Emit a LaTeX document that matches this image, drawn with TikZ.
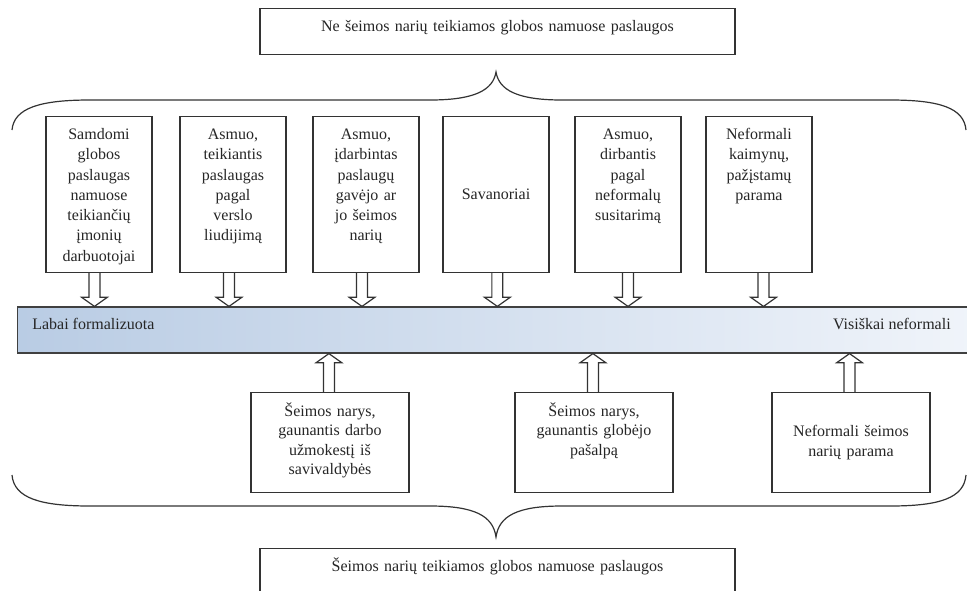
\documentclass[tikz,border=0pt]{standalone}
\usepackage{fontspec}
\setmainfont{Liberation Serif}
\usetikzlibrary{calc}

\begin{document}
\begin{tikzpicture}[x=0.75pt,y=-0.75pt,
    every node/.style={font=\fontsize{12}{15.2}\selectfont, text=black!85},
    box/.style={draw=black!80, line width=0.9pt, inner sep=0pt, align=center, fill=white},
    wide/.style={box, text width=356.25pt, text height=16.9pt, text depth=17.6pt},
    upper/.style={box, text width=79.5pt, minimum height=117pt},
    toptext/.style={text height=17.25pt, text depth=99.75pt},
    lower/.style={box, text width=118.5pt, minimum height=75pt, font=\fontsize{12}{14.4}\selectfont},
    lowtext/.style={text height=18pt, text depth=57pt},
    scale bar/.style={draw=black!75, line width=0.9pt, inner sep=0pt,
        minimum width=718.5pt, minimum height=34.5pt,
        left color={rgb,255:red,185;green,204;blue,228},
        right color={rgb,255:red,240;green,244;blue,250}},
    brace/.style={draw=black!80, line width=0.9pt},
    downblock/.style={draw=black!80, line width=0.9pt, to path={
        let \p1=(\tikztostart), \p2=(\tikztotarget) in
        (\x1-4.1pt,\y1) -- (\x1-4.1pt,\y2+6.8pt) -- (\x1-9.6pt,\y2+6.8pt) -- (\x1,\y2)
        -- (\x1+9.6pt,\y2+6.8pt) -- (\x1+4.1pt,\y2+6.8pt) -- (\x1+4.1pt,\y1)}},
    upblock/.style={draw=black!80, line width=0.9pt, to path={
        let \p1=(\tikztostart), \p2=(\tikztotarget) in
        (\x1-4.1pt,\y1) -- (\x1-4.1pt,\y2-6.8pt) -- (\x1-9.6pt,\y2-6.8pt) -- (\x1,\y2)
        -- (\x1+9.6pt,\y2-6.8pt) -- (\x1+4.1pt,\y2-6.8pt) -- (\x1+4.1pt,\y1)}}]

    \path[use as bounding box, clip] (0,0) rectangle (967,590);

    % groups
    \node[wide, anchor=north]  (ne)  at (497.5,8)   {Ne šeimos narių teikiamos globos namuose paslaugos};
    \node[wide, anchor=north]  (fam) at (497.5,548) {Šeimos narių teikiamos globos namuose paslaugos};

    % non family providers
    \node[upper, toptext, anchor=north] (s1) at (99,116)  {Samdomi\\globos\\paslaugas\\namuose\\teikiančių\\įmonių\\darbuotojai};
    \node[upper, toptext, anchor=north] (s2) at (233,116) {Asmuo,\\teikiantis\\paslaugas\\pagal\\verslo\\liudijimą};
    \node[upper, toptext, anchor=north] (s3) at (366,116) {Asmuo,\\įdarbintas\\paslaugų\\gavėjo ar\\jo šeimos\\narių};
    \node[upper, anchor=north]          (s4) at (496,116) {Savanoriai};
    \node[upper, toptext, anchor=north] (s5) at (628,116) {Asmuo,\\dirbantis\\pagal\\neformalų\\susitarimą};
    \node[upper, toptext, anchor=north] (s6) at (759,116) {Neformali\\kaimynų,\\pažįstamų\\parama};

    % scale
    \node[scale bar, anchor=west] (bar) at (17,330) {};
    \node[inner sep=0pt, anchor=base west] (lo) at (32,329.5)  {Labai formalizuota};
    \node[inner sep=0pt, anchor=base east] (hi) at (951,329.5) {Visiškai neformali};

    % family providers
    \node[lower, lowtext, anchor=north] (f1) at (330,392) {Šeimos narys,\\gaunantis darbo\\užmokestį iš\\savivaldybės};
    \node[lower, lowtext, anchor=north] (f2) at (594,392) {Šeimos narys,\\gaunantis globėjo\\pašalpą};
    \node[lower, anchor=north]          (f3) at (851,392) {Neformali šeimos\\narių parama};

    \draw[downblock] ([xshift=-3.4pt]s1.south) to (bar.north);
    \draw[downblock] ([xshift=-3pt]s2.south)   to (bar.north);
    \draw[downblock] ([xshift=-3pt]s3.south)   to (bar.north);
    \draw[downblock] ([xshift=1pt]s4.south)    to (bar.north);
    \draw[downblock] (s5.south)                to (bar.north);
    \draw[downblock] ([xshift=3.4pt]s6.south)  to (bar.north);

    \draw[upblock] ([xshift=-0.8pt]f1.north) to (bar.south);
    \draw[upblock] ([xshift=-0.8pt]f2.north) to (bar.south);
    \draw[upblock] ([xshift=-1.1pt]f3.north) to (bar.south);

    % braces
    \draw[brace] (12,130) .. controls (14,108) and (40,100) .. (90,100) -- (430,100)
        .. controls (475,100) and (493,90) .. (496,72)
        .. controls (499,90) and (517,100) .. (562,100) -- (890,100)
        .. controls (940,100) and (964,108) .. (966,130);
    \draw[brace] (12,475) .. controls (14,498) and (40,506) .. (90,506) -- (430,506)
        .. controls (475,506) and (493,516) .. (496,537)
        .. controls (499,516) and (517,506) .. (562,506) -- (890,506)
        .. controls (940,506) and (964,498) .. (966,475);
\end{tikzpicture}
\end{document}
